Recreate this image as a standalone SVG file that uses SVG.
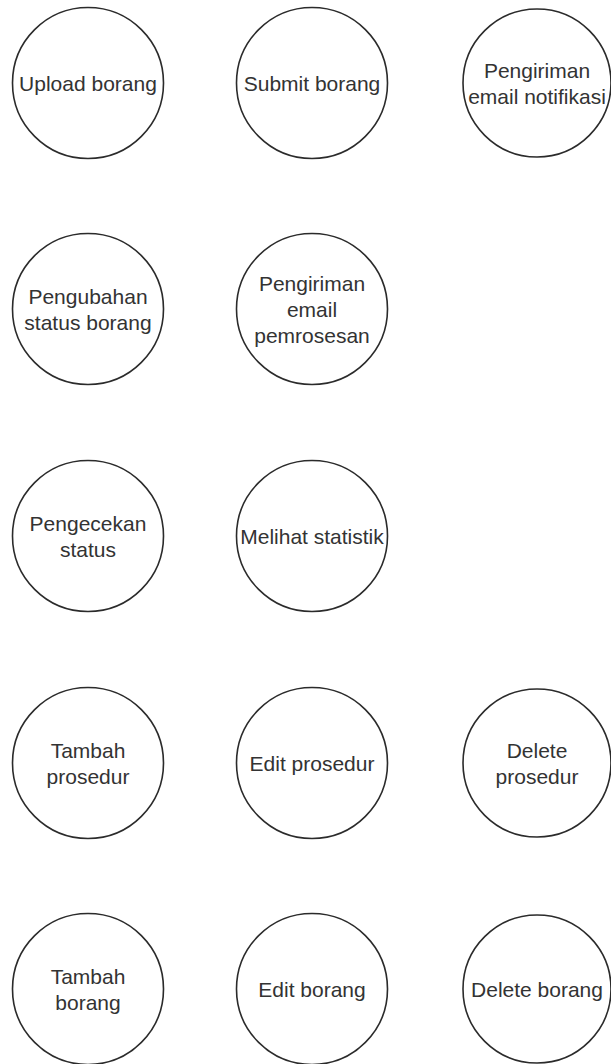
<svg xmlns="http://www.w3.org/2000/svg" width="611" height="1064" viewBox="0 0 611 1064">
  <style>
    .uc { fill: #ffffff; stroke: #2b2b2b; stroke-width: 1.6; }
    .lbl { font-family: "Liberation Sans", Arial, sans-serif; font-size: 21px; fill: #333333; text-anchor: middle; }
  </style>
  <rect width="611" height="1064" fill="#ffffff"/>

  <!-- row 1 -->
  <g id="upload-borang">
    <circle class="uc" cx="88" cy="83" r="75.5"/>
    <text class="lbl" x="88" y="90.5">Upload borang</text>
  </g>
  <g id="submit-borang">
    <circle class="uc" cx="312" cy="83" r="75.5"/>
    <text class="lbl" x="312" y="90.5">Submit borang</text>
  </g>
  <g id="pengiriman-email-notifikasi">
    <circle class="uc" cx="537" cy="83" r="74"/>
    <text class="lbl" x="537" y="77.5">Pengiriman</text>
    <text class="lbl" x="537" y="103.5">email notifikasi</text>
  </g>

  <!-- row 2 -->
  <g id="pengubahan-status-borang">
    <circle class="uc" cx="88" cy="309" r="75.5"/>
    <text class="lbl" x="88" y="303.5">Pengubahan</text>
    <text class="lbl" x="88" y="329.5">status borang</text>
  </g>
  <g id="pengiriman-email-pemrosesan">
    <circle class="uc" cx="312" cy="309" r="75.5"/>
    <text class="lbl" x="312" y="290.5">Pengiriman</text>
    <text class="lbl" x="312" y="316.5">email</text>
    <text class="lbl" x="312" y="342.5">pemrosesan</text>
  </g>

  <!-- row 3 -->
  <g id="pengecekan-status">
    <circle class="uc" cx="88" cy="536" r="75.5"/>
    <text class="lbl" x="88" y="530.5">Pengecekan</text>
    <text class="lbl" x="88" y="556.5">status</text>
  </g>
  <g id="melihat-statistik">
    <circle class="uc" cx="312" cy="536" r="75.5"/>
    <text class="lbl" x="312" y="543.5">Melihat statistik</text>
  </g>

  <!-- row 4 -->
  <g id="tambah-prosedur">
    <circle class="uc" cx="88" cy="763" r="75.5"/>
    <text class="lbl" x="88" y="757.5">Tambah</text>
    <text class="lbl" x="88" y="783.5">prosedur</text>
  </g>
  <g id="edit-prosedur">
    <circle class="uc" cx="312" cy="763" r="75.5"/>
    <text class="lbl" x="312" y="770.5">Edit prosedur</text>
  </g>
  <g id="delete-prosedur">
    <circle class="uc" cx="537" cy="763" r="74"/>
    <text class="lbl" x="537" y="757.5">Delete</text>
    <text class="lbl" x="537" y="783.5">prosedur</text>
  </g>

  <!-- row 5 -->
  <g id="tambah-borang">
    <circle class="uc" cx="88" cy="989" r="75.5"/>
    <text class="lbl" x="88" y="983.5">Tambah</text>
    <text class="lbl" x="88" y="1009.5">borang</text>
  </g>
  <g id="edit-borang">
    <circle class="uc" cx="312" cy="989" r="75.5"/>
    <text class="lbl" x="312" y="996.5">Edit borang</text>
  </g>
  <g id="delete-borang">
    <circle class="uc" cx="537" cy="989" r="74"/>
    <text class="lbl" x="537" y="996.5">Delete borang</text>
  </g>

  <!-- no connectors between use cases -->
  <g id="connectors"/>
</svg>
